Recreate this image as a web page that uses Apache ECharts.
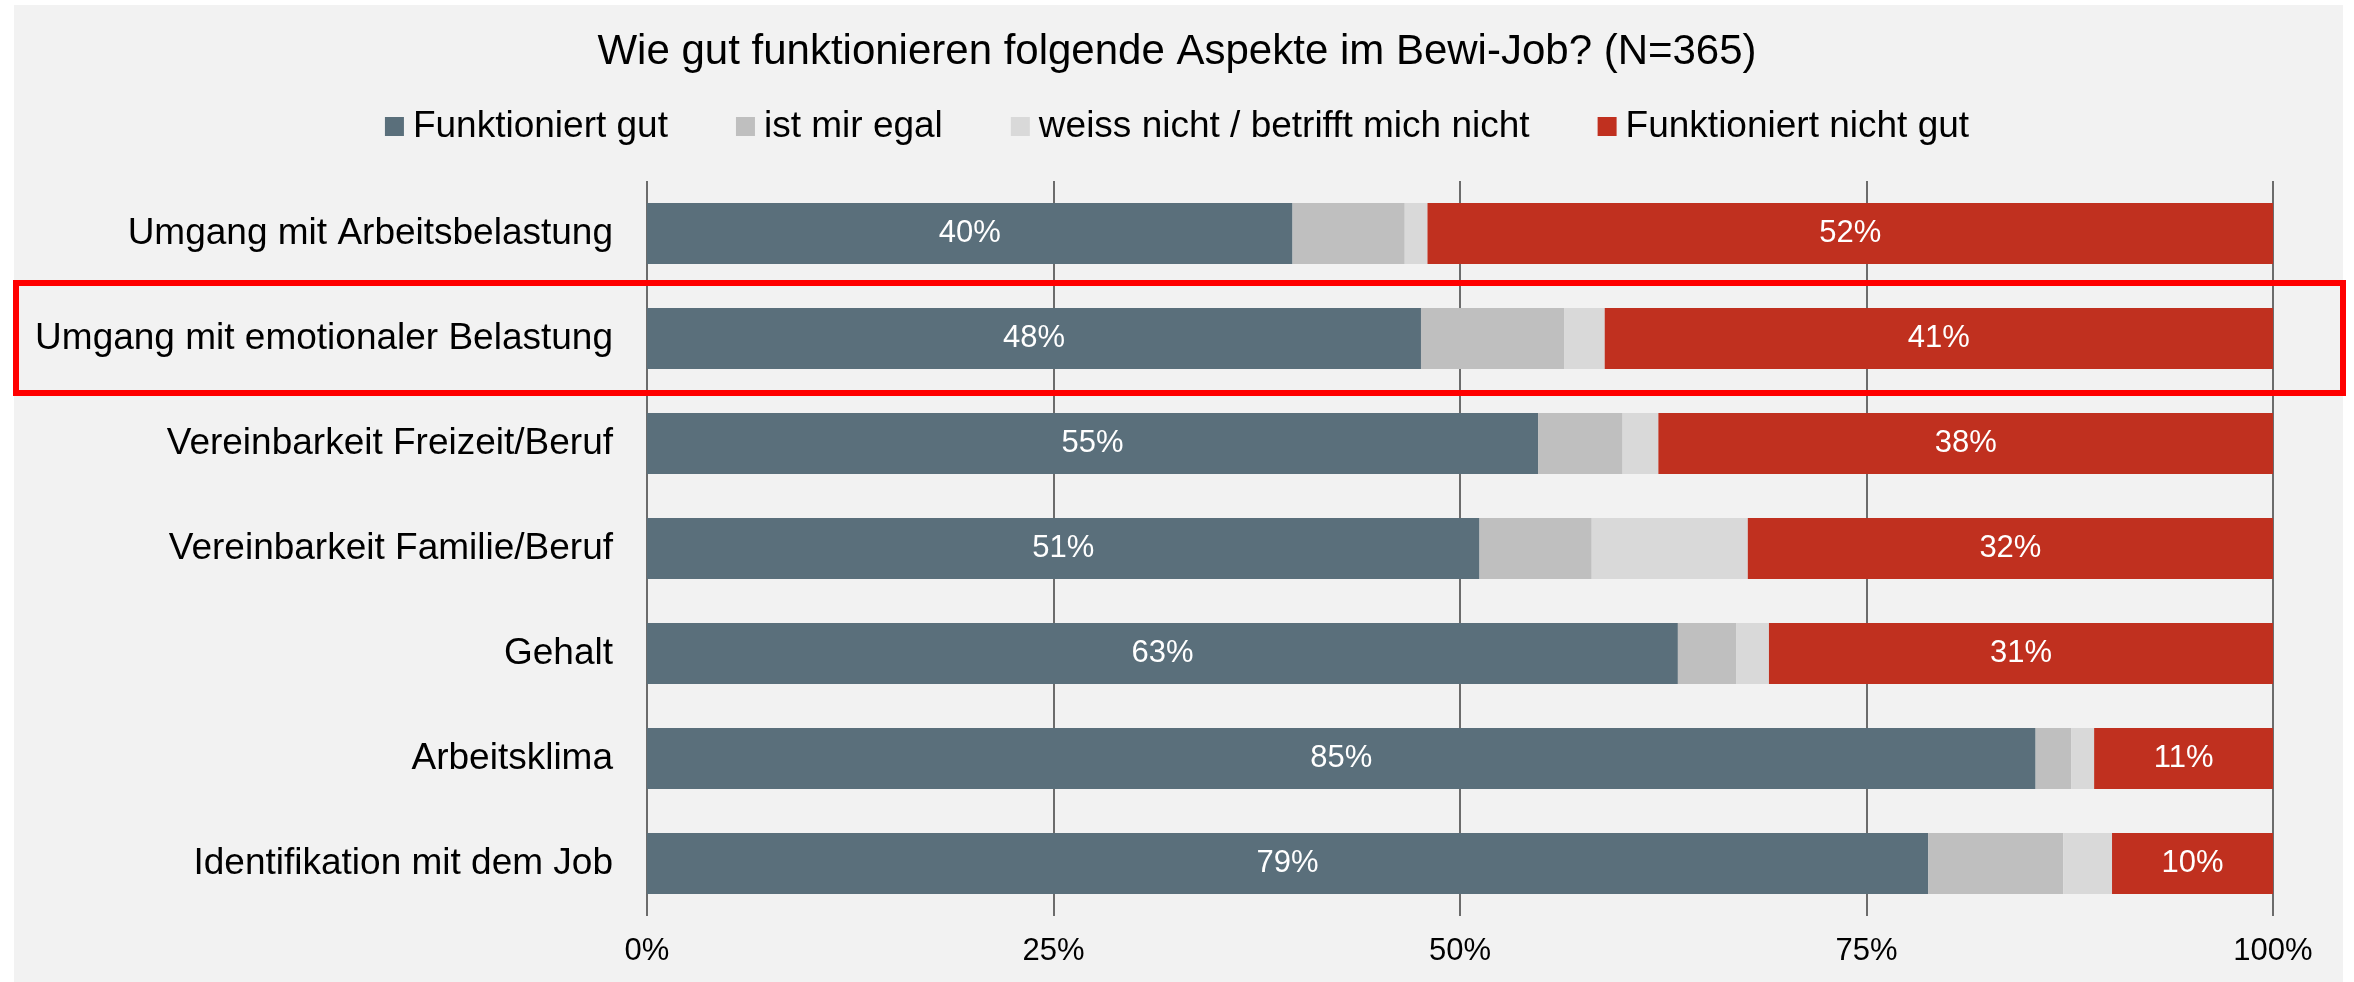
<!DOCTYPE html>
<html>
<head>
<meta charset="utf-8">
<script src="https://cdn.jsdelivr.net/npm/echarts@6/dist/echarts.min.js"></script>
<style>
html,body{margin:0;padding:0;background:#ffffff;}
#chart{width:2354px;height:982px;}
</style>
</head>
<body>
<div id="chart"></div>
<script>
const titleText = 'Wie gut funktionieren folgende Aspekte im Bewi-Job? (N=365)';
const categories = [
  'Umgang mit Arbeitsbelastung',
  'Umgang mit emotionaler Belastung',
  'Vereinbarkeit Freizeit/Beruf',
  'Vereinbarkeit Familie/Beruf',
  'Gehalt',
  'Arbeitsklima',
  'Identifikation mit dem Job'
];
const seriesNames = ['Funktioniert gut', 'ist mir egal', 'weiss nicht / betrifft mich nicht', 'Funktioniert nicht gut'];
const gut      = [39.7, 47.6, 54.8, 51.2, 63.4, 85.4, 78.8];
const egal     = [6.9, 8.8, 5.2, 6.9, 3.6, 2.2, 8.3];
const weiss    = [1.4, 2.5, 2.2, 9.6, 2.0, 1.4, 3.0];
const nichtGut = [52.0, 41.1, 37.8, 32.3, 31.0, 11.0, 9.9];
const xTicks = [0, 25, 50, 75, 100];

const colors = ['#5A6F7B', '#BFBFBF', '#D9D9D9', '#C0301F'];
const FONT = "'Liberation Sans', Arial, sans-serif";

const chart = echarts.init(document.getElementById('chart'));
const valuesList = [gut, egal, weiss, nichtGut];
const series = valuesList.map((vals, i) => ({
  name: seriesNames[i],
  type: 'bar',
  stack: 'total',
  barWidth: 61,
  data: vals,
  itemStyle: { color: colors[i] },
  label: {
    show: i === 0 || i === 3,
    position: 'inside',
    color: '#ffffff',
    fontSize: 31,
    fontFamily: FONT,
    formatter: p => Math.round(p.value) + '%'
  }
}));

chart.setOption({
  backgroundColor: '#ffffff',
  animation: false,
  color: colors,
  textStyle: { fontFamily: FONT },
  title: {
    text: titleText,
    left: 'center',
    top: 26,
    textStyle: { fontSize: 42, fontWeight: 'normal', color: '#000000', fontFamily: FONT }
  },
  legend: {
    data: seriesNames,
    left: 'center',
    top: 103,
    icon: 'rect',
    itemWidth: 19,
    itemHeight: 19,
    itemGap: 68,
    textStyle: { fontSize: 37, color: '#000000', fontFamily: FONT, padding: [0, 0, 0, 4] }
  },
  grid: { left: 647, right: 81, top: 181, bottom: 66, containLabel: false },
  xAxis: {
    type: 'value',
    min: xTicks[0],
    max: xTicks[xTicks.length - 1],
    interval: 25,
    axisLine: { show: false },
    axisTick: { show: false },
    axisLabel: { fontSize: 31, color: '#000000', margin: 20, fontFamily: FONT, formatter: '{value}%' },
    splitLine: { show: true, lineStyle: { color: '#3F3F3F', width: 1.5 } }
  },
  yAxis: {
    type: 'category',
    inverse: true,
    data: categories,
    axisLine: { show: false },
    axisTick: { show: false },
    axisLabel: { fontSize: 37, color: '#000000', margin: 34, fontFamily: FONT }
  },
  graphic: {
    elements: [
      { type: 'rect', z: -10, silent: true, shape: { x: 14, y: 5, width: 2329, height: 977 }, style: { fill: '#F2F2F2' } },
      { type: 'rect', z: 100, silent: true, shape: { x: 16, y: 283, width: 2327, height: 110 }, style: { fill: 'none', stroke: '#FF0000', lineWidth: 6 } }
    ]
  },
  series: series
});
</script>
</body>
</html>
